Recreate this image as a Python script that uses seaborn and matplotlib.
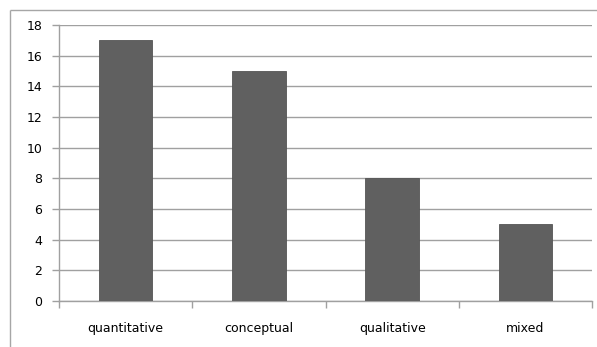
import matplotlib
matplotlib.use("Agg")
import matplotlib.pyplot as plt
from matplotlib.lines import Line2D
import seaborn as sns
import pandas as pd

categories = ["quantitative", "conceptual", "qualitative", "mixed"]
counts = [17, 15, 8, 5]
y_ticks = [0, 2, 4, 6, 8, 10, 12, 14, 16, 18]

df = pd.DataFrame({"category": categories, "count": counts})

sns.set_style("white")
plt.rcParams['font.family'] = ['DejaVu Sans']

W, H = 597, 347
fig = plt.figure(figsize=(W / 100, H / 100), dpi=100)
ax = fig.add_axes([59 / W, (H - 301) / H, (592 - 59) / W, (301 - 25) / H])

sns.barplot(data=df, x="category", y="count", color="#606060", saturation=1,
            width=0.4, ax=ax, zorder=3)
for p in ax.patches:
    p.set_edgecolor("#555555")
    p.set_linewidth(0.6)

ax.set_xlim(-0.5, len(categories) - 0.5)
ax.set_ylim(0, 18)
ax.set_yticks(y_ticks)
ax.yaxis.grid(True, color="#a0a0a0", linewidth=1.0, zorder=0)
ax.set_axisbelow(True)
ax.set_xlabel("")
ax.set_ylabel("")

for s in ["top", "right"]:
    ax.spines[s].set_visible(False)
for s in ["left", "bottom"]:
    ax.spines[s].set_color("#a0a0a0")
    ax.spines[s].set_linewidth(1.0)

# x ticks at category boundaries, labels centered
ax.set_xticks([i + 0.5 for i in range(-1, len(categories))], minor=False)
ax.set_xticklabels([])
ax.set_xticks(range(len(categories)), minor=True)
ax.set_xticklabels(categories, minor=True)
ax.tick_params(axis="x", which="major", direction="out", length=5, color="#a0a0a0", width=1)
ax.tick_params(axis="x", which="minor", length=0, pad=15, labelsize=9, labelcolor="black")
ax.tick_params(axis="y", direction="out", length=5, color="#a0a0a0", width=1,
               labelsize=9, pad=7, labelcolor="black")
ax.tick_params(left=True, bottom=True)

# outer chart frame (only top and left edges are inside the image)
x0, y0 = 9.5 / W, 1 - 9.5 / H
fig.lines.append(Line2D([x0, (W - 0.5) / W], [y0, y0], transform=fig.transFigure,
                        color="#a6a6a6", linewidth=1.0, solid_capstyle="butt"))
fig.lines.append(Line2D([x0, x0], [0.5 / H, y0], transform=fig.transFigure,
                        color="#a6a6a6", linewidth=1.0, solid_capstyle="butt"))

fig.savefig("out.png", dpi=100)
